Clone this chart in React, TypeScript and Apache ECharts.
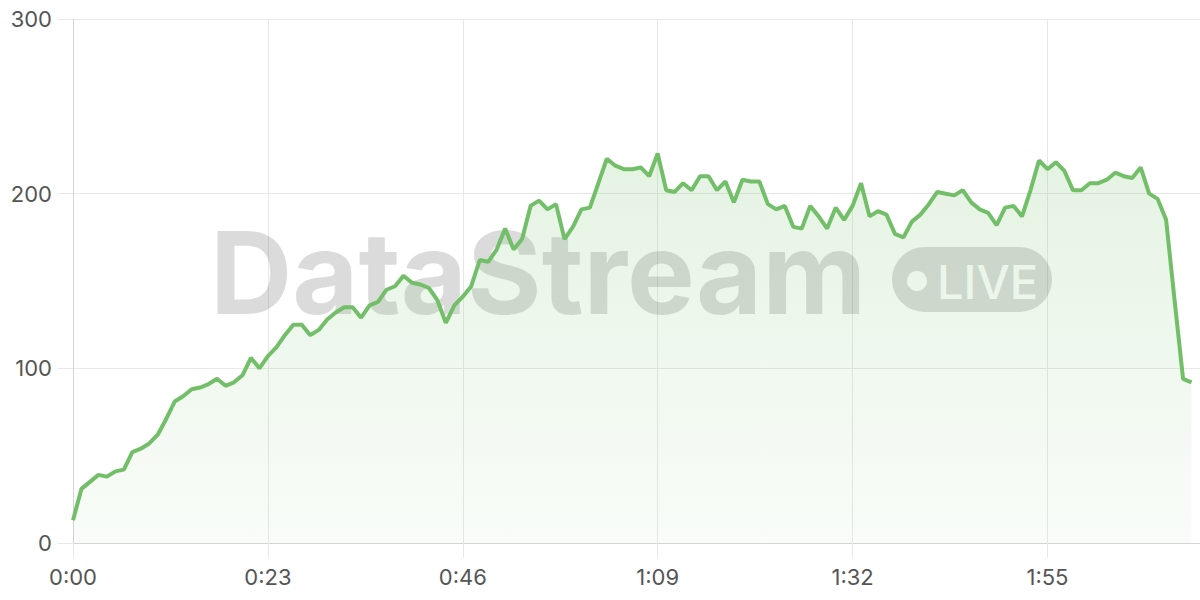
import React, { useEffect, useRef } from "react";
import * as echarts from "echarts";

// Values sampled once per second (0:00 .. 2:12)
const values = [
  13, 31, 35, 39, 38, 41, 42, 52, 54, 57,
  62, 71, 81, 84, 88, 89, 91, 94, 90, 92,
  96, 106, 100, 107, 112, 119, 125, 125, 119, 122,
  128, 132, 135, 135, 129, 136, 138, 145, 147, 153,
  149, 148, 146, 139, 126, 136, 141, 147, 162, 161,
  168, 180, 168, 174, 193, 196, 191, 194, 174, 181,
  191, 192, 206, 220, 216, 214, 214, 215, 210, 223,
  202, 201, 206, 202, 210, 210, 202, 207, 195, 208,
  207, 207, 194, 191, 193, 181, 180, 193, 187, 180,
  192, 185, 193, 206, 187, 190, 188, 177, 175, 184,
  188, 194, 201, 200, 199, 202, 195, 191, 189, 182,
  192, 193, 187, 202, 219, 214, 218, 213, 202, 202,
  206, 206, 208, 212, 210, 209, 215, 200, 197, 185,
  139, 94, 92,
];

// x axis spans 0..133 seconds (one slot beyond the last sample)
const axisSeconds = 133;
const labelEvery = 23;
const yTicks = [0, 100, 200, 300];

const fmt = (s: number) => `${Math.floor(s / 60)}:${String(s % 60).padStart(2, "0")}`;
const categories = Array.from({ length: axisSeconds + 1 }, (_, s) => fmt(s));

const GREEN = "#73bf69";
const LABEL = "#555555";
const GRID = "#e8e8e8";
const AXIS = "#d4d4d4";
const FONT = "Inter, 'Noto Sans', sans-serif";

export default function App() {
  const ref = useRef<HTMLDivElement>(null);
  useEffect(() => {
    if (!ref.current) return;
    const chart = echarts.init(ref.current, undefined, { renderer: "svg" });
    chart.setOption({
      animation: false,
      backgroundColor: "#ffffff",
      grid: { left: 73, right: 0, top: 19, bottom: 57, containLabel: false },
      xAxis: {
        type: "category",
        data: categories,
        boundaryGap: false,
        axisLine: { show: true, lineStyle: { color: AXIS, width: 1 } },
        axisTick: { show: true, length: 15, interval: labelEvery - 1, lineStyle: { color: GRID } },
        axisLabel: {
          interval: labelEvery - 1,
          color: LABEL,
          fontSize: 22,
          fontFamily: FONT,
          margin: 23,
        },
        splitLine: { show: true, interval: labelEvery - 1, lineStyle: { color: GRID, width: 1 } },
      },
      yAxis: {
        type: "value",
        min: yTicks[0],
        max: yTicks[yTicks.length - 1],
        interval: yTicks[1] - yTicks[0],
        axisLine: { show: true, lineStyle: { color: AXIS, width: 1 } },
        axisTick: { show: true, length: 15, lineStyle: { color: GRID } },
        axisLabel: { color: LABEL, fontSize: 22, fontFamily: FONT, margin: 21 },
        splitLine: { show: true, lineStyle: { color: GRID, width: 1 } },
      },
      graphic: [
        {
          type: "text",
          z: 1,
          x: 210,
          y: 272,
          style: {
            text: "DataStream",
            fontSize: 114,
            fontWeight: "bold",
            fontFamily: FONT,
            fill: "rgba(0,0,0,0.14)",
            textAlign: "left",
            textVerticalAlign: "middle",
            align: "left",
            verticalAlign: "middle",
          },
        },
        {
          type: "rect",
          z: 1,
          shape: { x: 892, y: 247, width: 160, height: 65, r: 32.5 },
          style: { fill: "rgba(0,0,0,0.14)" },
        },
        {
          type: "circle",
          z: 1,
          shape: { cx: 917, cy: 281, r: 10 },
          style: { fill: "#ffffff" },
        },
        {
          type: "text",
          z: 1,
          x: 937,
          y: 281,
          style: {
            text: "LIVE",
            fontSize: 47,
            fontWeight: 500,
            fontFamily: FONT,
            fill: "#ffffff",
            textAlign: "left",
            textVerticalAlign: "middle",
            align: "left",
            verticalAlign: "middle",
          },
        },
      ],
      series: [
        {
          type: "line",
          data: values,
          symbol: "none",
          showSymbol: false,
          smooth: false,
          lineStyle: { color: GREEN, width: 4 },
          itemStyle: { color: GREEN },
          areaStyle: {
            color: new echarts.graphic.LinearGradient(0, 0, 0, 1, [
              { offset: 0, color: "rgba(115,191,105,0.27)" },
              { offset: 1, color: "rgba(115,191,105,0.06)" },
            ]),
          },
          z: 2,
        },
      ],
    });
    return () => chart.dispose();
  }, []);
  return (
    <div
      ref={ref}
      style={{ position: "absolute", left: 0, top: 0, width: 1200, height: 600, background: "#fff" }}
    />
  );
}
